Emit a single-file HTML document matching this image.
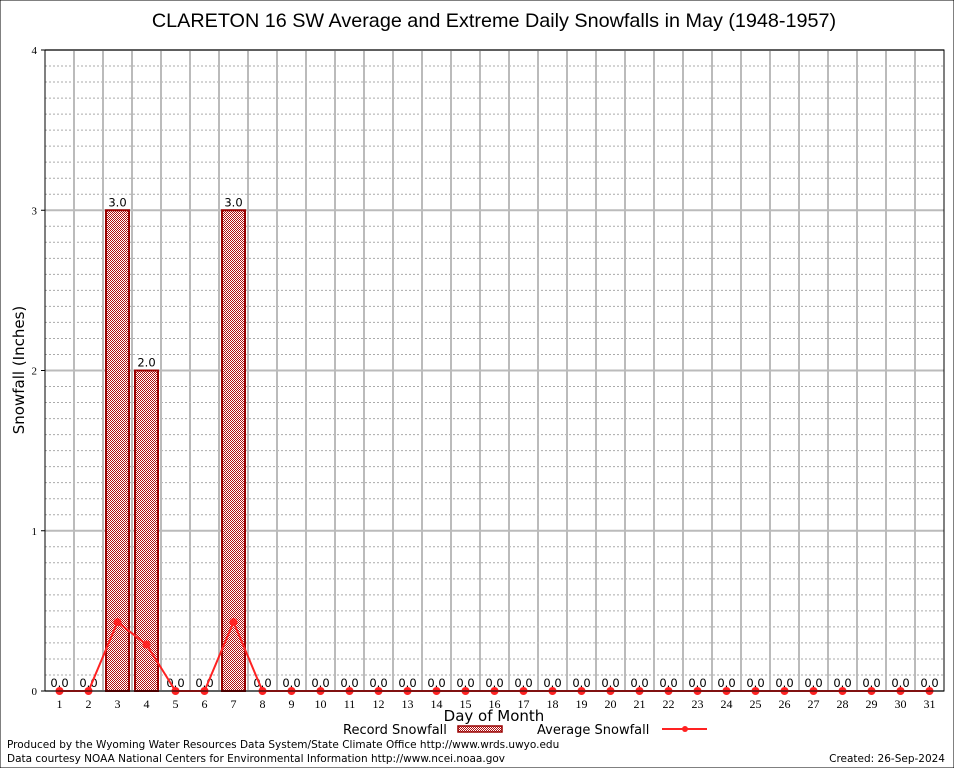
<!DOCTYPE html>
<html><head><meta charset="utf-8"><style>
body{margin:0;background:#fff;}
svg{display:block;font-family:"DejaVu Sans","Liberation Sans",sans-serif;}
</style></head><body>
<svg id="chart" width="954" height="768" viewBox="0 0 954 768">
<defs>
<pattern id="chk" width="2" height="2" patternUnits="userSpaceOnUse">
<rect width="2" height="2" fill="#fff"/><rect width="1" height="1" fill="#b01010"/><rect x="1" y="1" width="1" height="1" fill="#b01010"/>
</pattern>
</defs>
<rect x="0" y="0" width="954" height="768" fill="#fff" stroke="#000"/>
<text x="494" y="27" font-size="19.8" text-anchor="middle" font-family="Liberation Sans, sans-serif">CLARETON 16 SW Average and Extreme Daily Snowfalls in May (1948-1957)</text>
<g id="grid"></g>
<g id="marks"></g>
<rect x="45" y="50" width="899" height="641" fill="none" stroke="#000"/>
<text transform="translate(24,370) rotate(-90)" font-size="15" text-anchor="middle">Snowfall (Inches)</text>
<text x="494" y="721" font-size="15" text-anchor="middle">Day of Month</text>
<g>
<text x="343" y="734" font-size="13">Record Snowfall</text>
<rect x="458" y="726" width="44" height="6" fill="url(#chk)" stroke="#990000" stroke-width="1.5"/>
<text x="537" y="734" font-size="13">Average Snowfall</text>
<line x1="662" y1="729" x2="707" y2="729" stroke="#f22" stroke-width="2"/>
<circle cx="685" cy="729" r="3" fill="#f22"/>
</g>
<text x="7" y="748" font-size="10.5">Produced by the Wyoming Water Resources Data System/State Climate Office http://www.wrds.uwyo.edu</text>
<text x="7" y="762" font-size="10.5">Data courtesy NOAA National Centers for Environmental Information http://www.ncei.noaa.gov</text>
<text x="945" y="762" font-size="10.5" text-anchor="end">Created:  26-Sep-2024</text>
</svg>
<script>
const days = [1,2,3,4,5,6,7,8,9,10,11,12,13,14,15,16,17,18,19,20,21,22,23,24,25,26,27,28,29,30,31];
const recordSnow = [0,0,3.0,2.0,0,0,3.0,0,0,0,0,0,0,0,0,0,0,0,0,0,0,0,0,0,0,0,0,0,0,0,0];
const avgSnow = [0,0,0.43,0.29,0,0,0.43,0,0,0,0,0,0,0,0,0,0,0,0,0,0,0,0,0,0,0,0,0,0,0,0];
const yTicks = [0,1,2,3,4];
const NS='http://www.w3.org/2000/svg';
const X0=45,X1=944,Y0=691,Y1=50,YMAX=4;
const step=(X1-X0)/31;
function xs(d){return X0+step*(d-0.5);}
function ys(v){return Y0-(v/YMAX)*(Y0-Y1);}
function mk(tag,attrs,parent){const e=document.createElementNS(NS,tag);for(const k in attrs)e.setAttribute(k,attrs[k]);parent.appendChild(e);return e;}
const grid=document.getElementById('grid'),marks=document.getElementById('marks');
for(let i=1;i<40;i++){if(i%10===0)continue;const v=i/10;
const l=mk('line',{x1:X0,x2:X1,y1:ys(v),y2:ys(v),stroke:'#aaa','stroke-dasharray':'2,2'},grid);

}
yTicks.forEach(t=>{
const l=mk('line',{x1:X0,x2:X1,y1:ys(t),y2:ys(t),stroke:'#bbb','stroke-width':2},grid);


const tk=mk('line',{x1:X0-4,x2:X0,y1:ys(t),y2:ys(t),stroke:'#000'},grid);


const tx=mk('text',{x:X0-8,y:ys(t)+4,'font-size':11,'text-anchor':'end','font-family':'Liberation Serif, serif'},grid);tx.textContent=t;

});
for(let i=1;i<31;i++){const x=X0+step*i;
const l=mk('line',{x1:x,x2:x,y1:Y1,y2:Y0,stroke:'#bbb','stroke-width':2},grid);

}
days.forEach((d,i)=>{
const x=xs(d);
const tx=mk('text',{x:x,y:708,'font-size':12,'text-anchor':'middle','font-family':'Liberation Serif, serif'},grid);tx.textContent=d;


const v=recordSnow[i];
if(v>0){const b=mk('rect',{x:x-11.5,y:ys(v),width:23,height:Y0-ys(v),fill:'url(#chk)',stroke:'#990000','stroke-width':2},marks);

}
const lb=mk('text',{x:x,y:ys(v)-4,'font-size':11.5,'text-anchor':'middle'},marks);lb.textContent=v.toFixed(1);

});
const pts=days.map((d,i)=>xs(d)+','+ys(avgSnow[i])).join(' ');
const pl=mk('polyline',{points:pts,fill:'none',stroke:'#f22','stroke-width':2},marks);


days.forEach((d,i)=>{const c=mk('circle',{cx:xs(d),cy:ys(avgSnow[i]),r:4,fill:'#f22'},marks);

});
</script>
</body></html>
